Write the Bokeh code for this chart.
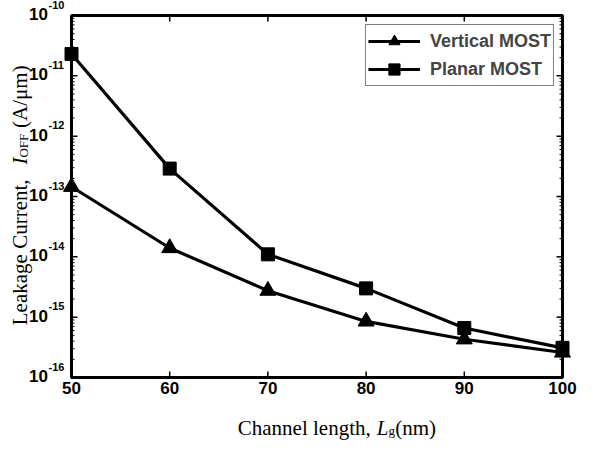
import math
from bokeh.plotting import figure
from bokeh.models import Label, Range1d
from bokeh.core.properties import value
from bokeh.embed import file_html
from bokeh.resources import INLINE

# ---- data ----
channel_length = [50, 60, 70, 80, 90, 100]
vertical_most = [1.45e-13, 1.4e-14, 2.75e-15, 8.5e-16, 4.3e-16, 2.6e-16]
planar_most = [2.3e-11, 2.9e-13, 1.1e-14, 3.0e-15, 6.6e-16, 3.1e-16]
x_ticks = [50, 60, 70, 80, 90, 100]
x_tick_labels = ["50", "60", "70", "80", "90", "100"]
y_exponents = [-16, -15, -14, -13, -12, -11, -10]
series_names = ["Vertical MOST", "Planar MOST"]

XMIN, XMAX = 50, 100
YMIN, YMAX = 1e-16, 1e-10
LY0, LY1 = math.log10(YMIN), math.log10(YMAX)

W, H = 578, 441
# plot box inside the canvas (canvas pixels)
FX0, FX1 = 71, 562
FY1, FY0 = 15, 377
# same box as measured on the reference layout (reference pixels)
RX0, RX1, RY1, RY0 = 77, 579, 23, 390


def fx(rx):
    return FX0 + (rx - RX0) * (FX1 - FX0) / (RX1 - RX0)


def fy(ry):
    return FY1 + (ry - RY1) * (FY0 - FY1) / (RY0 - RY1)


def xd_f(f):
    return XMIN + (f - FX0) * (XMAX - XMIN) / (FX1 - FX0)


def yd_f(f):
    return 10 ** (LY0 + (FY0 - f) * (LY1 - LY0) / (FY0 - FY1))


def xd(rx):
    return xd_f(fx(rx))


def yd(ry):
    return yd_f(fy(ry))


def ry_of(v):
    return RY0 - (math.log10(v) - LY0) * (RY0 - RY1) / (LY1 - LY0)


p = figure(width=W, height=H, y_axis_type="log",
           x_axis_location=None, y_axis_location=None,
           x_range=Range1d(xd_f(0), xd_f(W)), y_range=Range1d(yd_f(H), yd_f(0)),
           output_backend="svg", toolbar_location=None,
           min_border=0, min_border_left=0, min_border_right=0,
           min_border_top=0, min_border_bottom=0)
p.background_fill_color = "white"
p.border_fill_color = "white"
p.outline_line_color = None
p.grid.visible = False

SANS = value("Liberation Sans")
SERIF = "Liberation Serif"

# ---- plot box ----
p.quad(left=XMIN, right=XMAX, bottom=YMIN, top=YMAX, fill_color=None,
       line_color="black", line_width=3)

# ---- ticks (inward) ----
minor_y = [m * 10.0 ** e for e in y_exponents[:-1] for m in range(2, 10)]
major_y = [10.0 ** e for e in y_exponents]
n = len(x_ticks)
p.ray(x=x_ticks, y=[YMIN] * n, length=6, length_units="screen", angle=math.pi / 2,
      line_color="black", line_width=1.5)
p.ray(x=x_ticks, y=[YMAX] * n, length=6, length_units="screen", angle=-math.pi / 2,
      line_color="black", line_width=1.5)
p.ray(x=[XMIN] * len(major_y), y=major_y, length=6, length_units="screen", angle=0,
      line_color="black", line_width=1.5)
p.ray(x=[XMAX] * len(major_y), y=major_y, length=6, length_units="screen", angle=math.pi,
      line_color="black", line_width=1.5)
p.ray(x=[XMIN] * len(minor_y), y=minor_y, length=3, length_units="screen", angle=0,
      line_color="black", line_width=1)
p.ray(x=[XMAX] * len(minor_y), y=minor_y, length=3, length_units="screen", angle=math.pi,
      line_color="black", line_width=1)

# ---- tick labels ----
p.text(x=x_ticks, y=[yd(395)] * n, text=x_tick_labels, text_font=SANS,
       text_font_style="bold", text_font_size="17px", text_color="black",
       text_align="center", text_baseline="top")
p.text(x=[xd(53)] * len(y_exponents),
       y=[yd(ry_of(10.0 ** e) - 1.5) for e in y_exponents],
       text=["10"] * len(y_exponents), text_font=SANS, text_font_style="bold",
       text_font_size="17px", text_color="black", text_align="right",
       text_baseline="middle")
p.text(x=[xd(53.5)] * len(y_exponents),
       y=[yd(ry_of(10.0 ** e) - 7) for e in y_exponents],
       text=[str(e) for e in y_exponents], text_font=SANS, text_font_style="bold",
       text_font_size="11px", text_color="black", text_align="left",
       text_baseline="bottom")

# ---- data series ----
p.line(channel_length, vertical_most, line_width=3.2, color="black", legend_label=series_names[0])
p.scatter(channel_length, vertical_most, marker="triangle", size=16, color="black",
          legend_label=series_names[0])
p.line(channel_length, planar_most, line_width=3.2, color="black", legend_label=series_names[1])
p.scatter(channel_length, planar_most, marker="square", size=13, color="black",
          legend_label=series_names[1])

# ---- legend ----
lg = p.legend[0]
lg.location = "top_right"
lg.margin = 24
lg.padding = 2
lg.spacing = -4
lg.glyph_width = 52
lg.glyph_height = 28
lg.label_height = 20
lg.label_standoff = 10
lg.label_text_font = "Liberation Sans"
lg.label_text_font_style = "bold"
lg.label_text_font_size = "18px"
lg.border_line_color = "black"
lg.border_line_width = 1
lg.background_fill_color = "white"


# ---- axis titles ----
def add_label(text, rx, ry, size, style="normal", angle=0):
    p.add_layout(Label(x=xd(rx), y=yd(ry), text=text, text_font=SERIF,
                       text_font_size=size, text_font_style=style,
                       text_color="black", text_baseline="alphabetic",
                       text_align="left", angle=angle, angle_units="deg"))


add_label("Channel length,", 247, 441, "21px")
add_label("L", 389, 441, "21px", "italic")
add_label("g", 401, 444, "13px")
add_label("(nm)", 408, 441, "21px")

add_label("Leakage Current,", 24, 337, "21px", angle=90)
add_label("I", 24, 174, "21px", "italic", angle=90)
add_label("OFF", 28, 167, "13px", angle=90)
add_label("(A/\u03bcm)", 24, 137, "21px", angle=90)

open("out.html", "w").write(file_html(p, INLINE))
